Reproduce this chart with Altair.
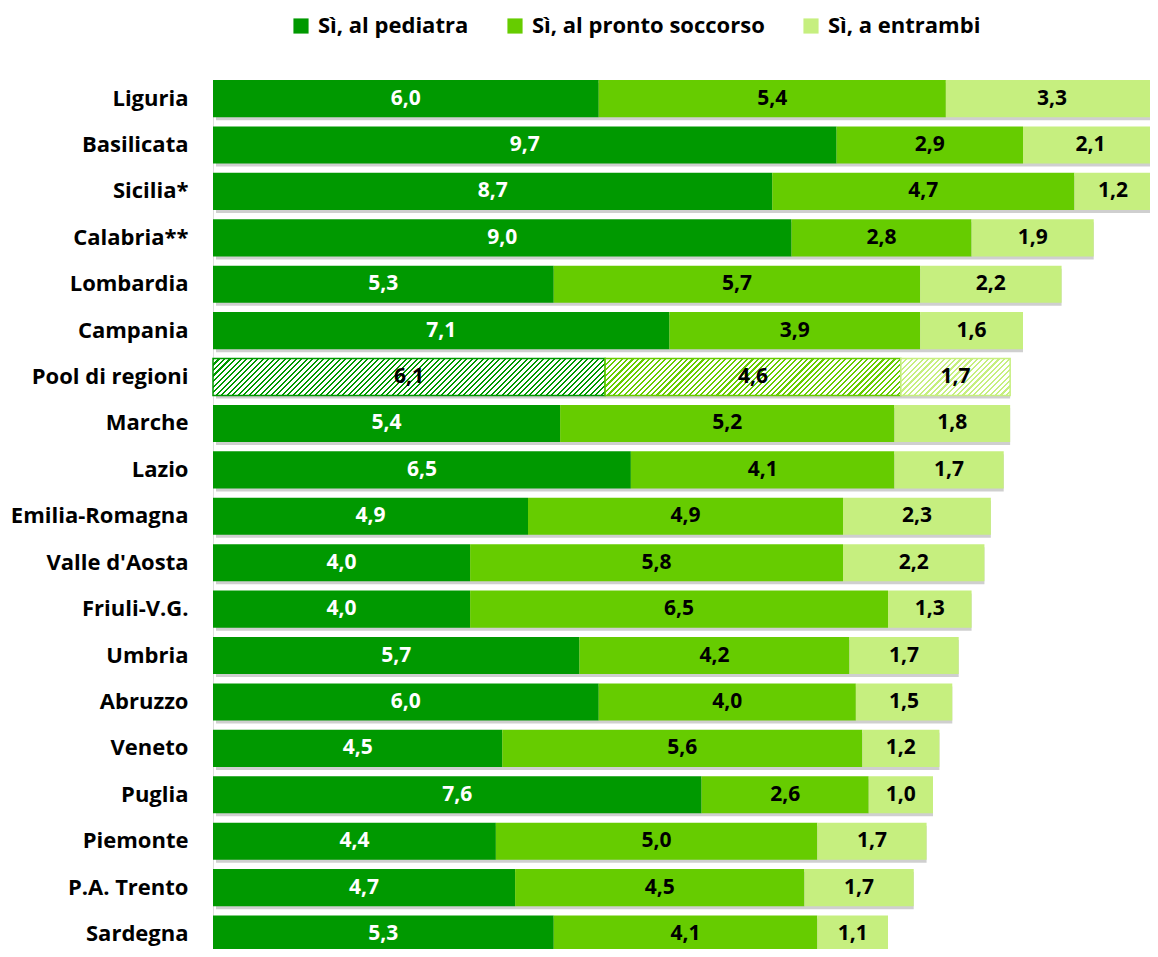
import altair as alt
import pandas as pd

regions = ["Liguria", "Basilicata", "Sicilia*", "Calabria**", "Lombardia", "Campania",
           "Pool di regioni", "Marche", "Lazio", "Emilia-Romagna", "Valle d'Aosta",
           "Friuli-V.G.", "Umbria", "Abruzzo", "Veneto", "Puglia", "Piemonte",
           "P.A. Trento", "Sardegna"]
pediatra = [6.0, 9.7, 8.7, 9.0, 5.3, 7.1, 6.1, 5.4, 6.5, 4.9, 4.0, 4.0, 5.7, 6.0, 4.5, 7.6, 4.4, 4.7, 5.3]
pronto = [5.4, 2.9, 4.7, 2.8, 5.7, 3.9, 4.6, 5.2, 4.1, 4.9, 5.8, 6.5, 4.2, 4.0, 5.6, 2.6, 5.0, 4.5, 4.1]
entrambi = [3.3, 2.1, 1.2, 1.9, 2.2, 1.6, 1.7, 1.8, 1.7, 2.3, 2.2, 1.3, 1.7, 1.5, 1.2, 1.0, 1.7, 1.7, 1.1]
series_names = ["Sì, al pediatra", "Sì, al pronto soccorso", "Sì, a entrambi"]
colors = ["#009900", "#66CC00", "#C6EF7F"]
POOL = "Pool di regioni"

rows = []
for i, r in enumerate(regions):
    vals = [pediatra[i], pronto[i], entrambi[i]]
    total = sum(vals)
    start = 0.0
    for k, (s, v) in enumerate(zip(series_names, vals)):
        rows.append(dict(region=r, series=s, order=k, value=v, start=start,
                         end=start + v, mid=start + v / 2, total=total,
                         label=f"{v:.1f}".replace(".", ",")))
        start += v
df = pd.DataFrame(rows)

PX = 945 / 14.7          # pixels per unit
W, H = 937, 869
XMAX = W / PX
YRANGE = 872.6           # band range (last bar runs slightly past the bottom edge, as in the original)
BAND = YRANGE * 0.8 / 18.8
FONT = "Open Sans"

y_enc = alt.Y("region:N", sort=regions, title=None,
              scale=alt.Scale(paddingInner=0.2, paddingOuter=0, range=[0, YRANGE]),
              axis=alt.Axis(domain=False, ticks=False, labelPadding=25,
                            labelFont=FONT, labelFontSize=22, labelFontWeight="bold",
                            labelColor="black", labelLimit=0))
x_scale = alt.Scale(domain=[0, XMAX], nice=False, zero=True)

base = alt.Chart(df)

shadow = base.transform_filter(alt.datum.order == 0).mark_bar(
    color="#cfcfcf", xOffset=3, yOffset=3
).encode(
    x=alt.X("start:Q", scale=x_scale, axis=None),
    x2="total:Q",
    y=y_enc,
)

bars = base.transform_filter(alt.datum.region != POOL).mark_bar().encode(
    x=alt.X("start:Q", scale=x_scale, axis=None),
    x2="end:Q",
    y=y_enc,
    color=alt.Color("series:N", sort=series_names,
                    scale=alt.Scale(domain=series_names, range=colors),
                    legend=alt.Legend(title=None, orient="none", legendX=77, legendY=-65,
                                      direction="horizontal", symbolType="square",
                                      symbolSize=230, symbolStrokeWidth=0,
                                      labelFont=FONT, labelFontSize=22,
                                      labelFontWeight="bold", labelColor="black",
                                      labelLimit=0, columnPadding=35, labelOffset=6)),
)


def hatch(color, value):
    w = value * PX
    h = BAND
    r = h / w
    a = (1 + r) / (1 + r * r)
    n = max(1, round((w + h) / 5.5))
    stops = []
    for k in range(n):
        o0 = k / n
        o1 = (k + 0.4) / n
        o2 = (k + 1) / n
        stops += [alt.GradientStop(offset=o0, color=color),
                  alt.GradientStop(offset=o1, color=color),
                  alt.GradientStop(offset=o1, color="white"),
                  alt.GradientStop(offset=o2, color="white")]
    return alt.Gradient(gradient="linear", stops=stops, x1=0, y1=0, x2=a, y2=a * r)


pool_idx = regions.index(POOL)
pool_vals = [pediatra[pool_idx], pronto[pool_idx], entrambi[pool_idx]]
pool_layers = []
for k, (s, c, v) in enumerate(zip(series_names, colors, pool_vals)):
    pool_layers.append(
        base.transform_filter((alt.datum.region == POOL) & (alt.datum.order == k))
        .mark_bar(fill=hatch(c, v), stroke=c, strokeWidth=1.5)
        .encode(x=alt.X("start:Q", scale=x_scale, axis=None), x2="end:Q", y=y_enc)
    )

text = base.mark_text(font=FONT, fontWeight="bold", fontSize=21,
                      align="center", baseline="middle").encode(
    x=alt.X("mid:Q", scale=x_scale, axis=None),
    y=y_enc,
    text="label:N",
    color=alt.condition((alt.datum.order == 0) & (alt.datum.region != POOL),
                        alt.value("white"), alt.value("black")),
)

chart = alt.layer(shadow, bars, *pool_layers, text).properties(
    width=W, height=H,
    padding={"left": 205, "top": 72, "right": 0, "bottom": 0},
    autosize="none",
).configure_view(stroke=None).configure(font=FONT)

chart.save("out.html", embed_options={"renderer": "svg", "actions": False})
